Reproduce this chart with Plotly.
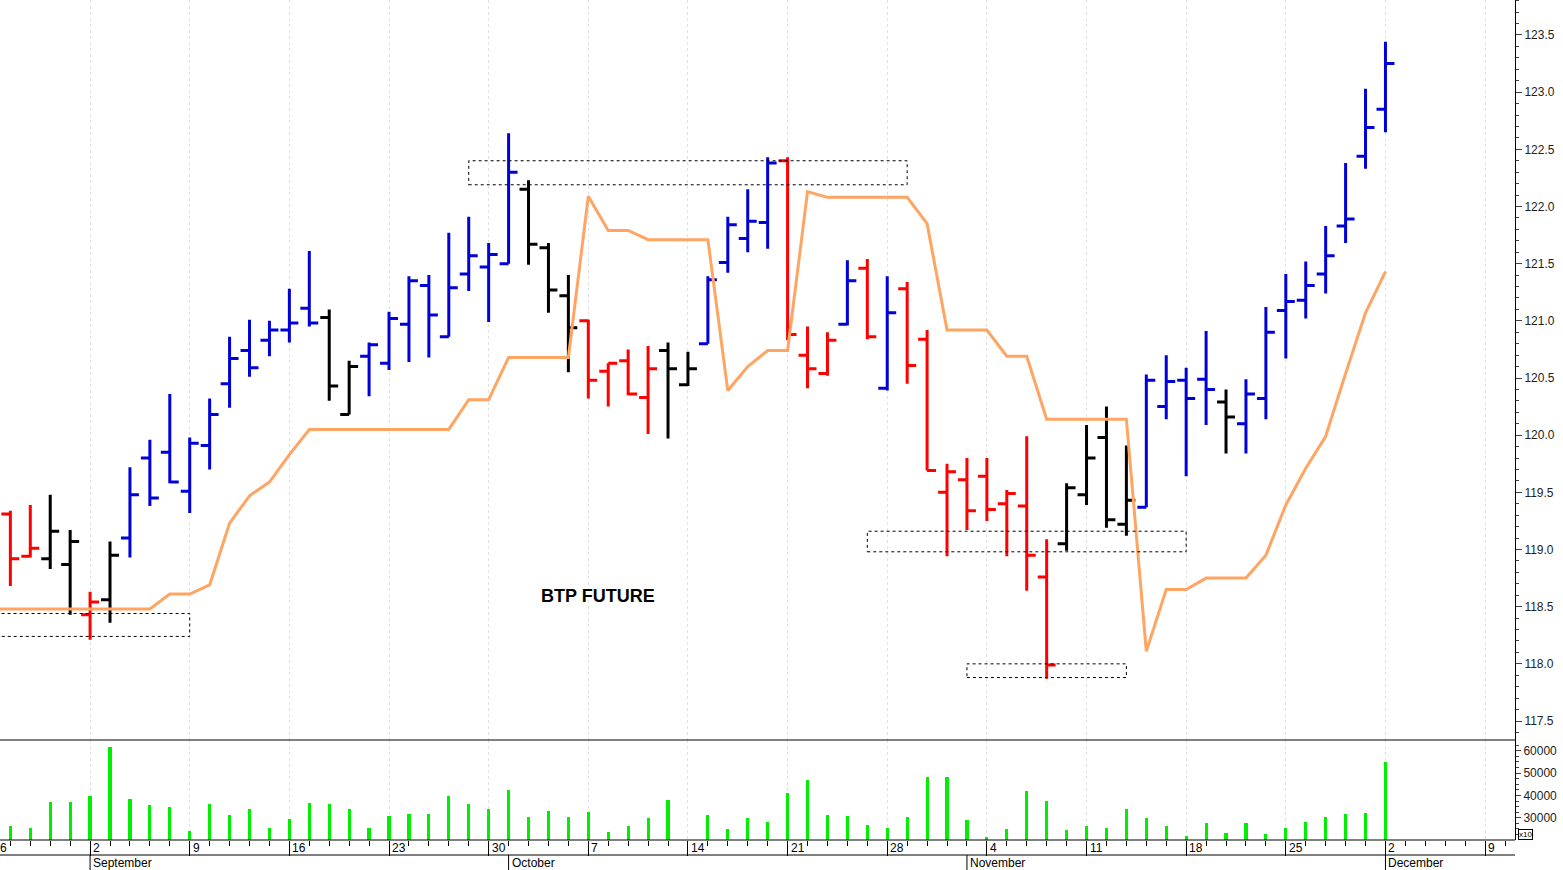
import pandas as pd
import plotly.graph_objects as go

dates = [d.strftime("%Y-%m-%d") for d in pd.bdate_range("2019-08-26", "2019-12-02")]
open_ = [119.30,119.31,118.94,118.92,118.87,118.43,118.56,119.10,119.80,119.85,119.51,119.91,120.45,120.74,120.83,120.92,121.11,121.03,120.18,120.69,120.63,120.97,121.31,120.86,121.41,121.47,121.50,122.15,121.64,121.22,121.00,120.56,120.65,120.33,120.74,120.44,120.80,121.51,121.72,121.86,122.40,120.70,120.54,120.97,121.46,120.41,121.28,120.84,119.50,119.61,119.64,119.40,119.38,118.76,119.05,119.48,119.98,119.22,119.37,120.25,120.48,120.49,120.29,120.10,120.32,121.09,121.18,121.41,121.83,122.44,122.85]
high = [119.6,119.34,119.39,119.48,119.17,118.63,119.07,119.72,119.96,120.36,119.98,120.32,120.86,121.01,121.00,121.28,121.61,121.10,120.65,120.81,121.08,121.39,121.40,121.77,121.91,121.68,122.64,122.23,121.68,121.40,121.01,120.63,120.75,120.78,120.81,120.73,121.39,121.91,122.15,122.43,122.43,120.95,120.90,121.53,121.54,121.39,121.34,120.92,119.75,119.80,119.80,119.52,119.99,119.09,119.58,120.09,120.25,119.91,120.53,120.70,120.59,120.91,120.40,120.49,121.12,121.41,121.52,121.83,122.38,123.03,123.44]
low = [119.1,118.68,118.93,118.83,118.43,118.21,118.36,118.93,119.38,119.58,119.32,119.70,120.24,120.51,120.69,120.81,120.95,120.30,120.18,120.34,120.57,120.64,120.68,120.86,121.26,120.99,121.50,121.49,121.07,120.55,120.32,120.25,120.35,120.01,119.97,120.43,120.80,121.42,121.60,121.63,120.83,120.41,120.52,120.96,120.84,120.39,120.45,119.69,118.94,119.17,119.25,118.94,118.64,117.87,118.99,119.39,119.19,119.12,119.37,120.14,119.64,120.09,119.84,119.84,120.14,120.67,121.02,121.24,121.68,122.33,122.65]
close = [119.41,118.92,119.01,119.16,119.07,118.54,118.95,119.48,119.45,119.59,119.93,120.18,120.67,120.59,120.92,120.98,120.98,120.43,120.60,120.79,121.02,121.35,121.05,121.29,121.57,121.58,122.30,121.67,121.27,120.94,120.48,120.63,120.36,120.58,120.58,120.58,121.36,121.84,121.87,122.38,120.88,120.58,120.83,121.35,120.86,121.07,120.61,119.69,119.68,119.34,119.35,119.49,118.95,117.99,119.54,119.80,119.26,119.43,120.48,120.47,120.32,120.40,120.16,120.36,120.90,121.17,121.31,121.57,121.89,122.69,123.25]
bar_color = list("krrkkrk") + ["b"]*10 + ["k"]*2 + ["b"]*8 + ["k"]*3 + ["r"]*4 + ["k"]*2 + ["b"]*4 + ["r"]*3 + ["b","r","b"] + ["r"]*8 + ["k"]*4 + ["b"]*4 + ["k"] + ["b"]*8
stop_line = [118.48]*9 + [118.61,118.61,118.69,119.23,119.47,119.59,119.83,120.05,120.05,120.05,120.05,120.05,120.05,120.05,120.05,120.31,120.31,
 120.68,120.68,120.68,120.68,122.09,121.79,121.79,121.71,121.71,121.71,121.71,120.39,120.60,120.74,120.74,122.13,122.08,122.08,122.08,122.08,122.08,121.85,120.92,
 120.92,120.92,120.69,120.69,120.14,120.14,120.14,120.14,120.14,118.11,118.65,118.65,118.75,118.75,118.75,118.95,119.39,119.71,119.99,120.54,121.07,121.43]
volume = [30000,26230,25480,37090,37240,39650,61670,38290,35880,34670,23970,36330,31060,33770,25630,29250,36790,36030,33770,25630,30600,31500,31500,39650,36330,33770,
 42370,30150,33170,30150,32410,23520,26230,29700,38140,20100,31060,24870,29700,27890,41010,46740,31060,30600,26980,25630,30150,48250,48250,
 28790,21400,24870,41760,37690,24420,26530,25630,33770,29700,26530,22010,27440,23060,27440,22760,25330,27890,30150,31510,31960,55030]
# dashed boxes: (start date, end date, low, high)
boxes = [("2019-08-23", "2019-09-09", 118.24, 118.44), ("2019-09-27", "2019-10-29", 122.19, 122.40),
         ("2019-10-25", "2019-11-18", 118.98, 119.16), ("2019-11-01", "2019-11-13", 117.88, 118.00)]
title_text = "BTP FUTURE"

axis_days = pd.bdate_range("2019-08-26", "2019-12-13")
idx = {d.strftime("%Y-%m-%d"): i for i, d in enumerate(axis_days)}
x = [idx[d] for d in dates]
def xi(d):
    return idx[d] if d in idx else (pd.Timestamp(d) - pd.Timestamp("2019-08-26")).days * 5 / 7

fig = go.Figure()
cmap = {"b": "#0000D8", "r": "#FF0000", "k": "#000000"}
for key, col in cmap.items():
    sel = [i for i, c in enumerate(bar_color) if c == key]
    fig.add_trace(go.Ohlc(x=[x[i] for i in sel], open=[open_[i] for i in sel], high=[high[i] for i in sel],
                          low=[low[i] for i in sel], close=[close[i] for i in sel], tickwidth=0.45,
                          increasing=dict(line=dict(color=col, width=3)), decreasing=dict(line=dict(color=col, width=3)),
                          xaxis="x2", yaxis="y2", showlegend=False))
fig.add_trace(go.Scatter(x=x, y=stop_line, mode="lines", line=dict(color="#FFA563", width=3), xaxis="x2", yaxis="y2", showlegend=False))
fig.add_trace(go.Bar(x=x, y=volume, marker=dict(color="#00EE00", line=dict(width=0)), width=0.16, showlegend=False))

mondays = [i for i, d in enumerate(axis_days) if d.weekday() == 0]
xr = [0.48, 76.5]
py0 = 1 - 740/870; vy1 = py0; vy0 = 1 - 840/870
common_x = dict(range=xr, tickvals=mondays, showgrid=True, gridcolor="#e2e2e2", griddash="dot", gridwidth=1,
                zeroline=False, showticklabels=False)
fig.update_layout(
    width=1563, height=870, margin=dict(l=0, r=48, t=0, b=0), plot_bgcolor="white", paper_bgcolor="white",
    font=dict(family="Arial", size=11, color="#000"),
    xaxis=dict(**common_x, domain=[0, 1], anchor="y", ticks="outside", ticklen=15, tickcolor="#000",
               minor=dict(dtick=1, tick0=0, ticks="outside", ticklen=5, tickcolor="#000", showgrid=False)),
    xaxis2=dict(**common_x, domain=[0, 1], anchor="y2", matches="x", ticks="", rangeslider=dict(visible=False)),
    yaxis=dict(domain=[vy0, vy1], range=[20050, 64800], side="right", tickvals=[30000, 40000, 50000, 60000],
               tickformat="d", ticks="outside", ticklen=5, showgrid=False, zeroline=False, showline=True, linecolor="#000",
               minor=dict(dtick=2500, ticks="outside", ticklen=3), tickfont=dict(size=12, color="#222")),
    yaxis2=dict(domain=[py0, 1], range=[117.334, 123.806], side="right", dtick=0.5, tick0=117.5, tickformat=".1f",
                ticks="outside", ticklen=6, showgrid=False, zeroline=False, showline=True, linecolor="#000",
                minor=dict(dtick=0.1, ticks="outside", ticklen=3), tickfont=dict(size=12, color="#222")),
    bargap=0,
)
shapes = []
for s, e, lo, hi in boxes:
    shapes.append(dict(type="rect", xref="x2", yref="y2", x0=xi(s), x1=xi(e), y0=lo, y1=hi,
                       line=dict(color="#000", width=1, dash="dot")))
shapes.append(dict(type="line", xref="paper", yref="paper", x0=0, x1=1, y0=py0, y1=py0, line=dict(color="#000", width=1)))
shapes.append(dict(type="line", xref="paper", yref="paper", x0=0, x1=1, y0=vy0, y1=vy0, line=dict(color="#000", width=1)))
y855 = 1 - 855/870
shapes.append(dict(type="line", xref="paper", yref="paper", x0=0, x1=1, y0=y855, y1=y855, line=dict(color="#000", width=1)))
ann = []
for i in mondays:
    ann.append(dict(x=i, xref="x", y=1 - 848/870, yref="paper", text=str(axis_days[i].day), showarrow=False,
                    xanchor="left", xshift=1, yanchor="middle", font=dict(size=12)))
ann.append(dict(x=0, xref="paper", y=1 - 848/870, yref="paper", text="6", showarrow=False,
                xanchor="left", xshift=-2, yanchor="middle", font=dict(size=12)))
prev = None
for i, d in enumerate(axis_days):
    if prev is not None and d.month != prev:
        shapes.append(dict(type="line", xref="x", yref="paper", x0=i, x1=i, y0=0, y1=y855, line=dict(color="#000", width=1)))
        ann.append(dict(x=i, xref="x", y=1 - 863/870, yref="paper", text=d.strftime("%B"), showarrow=False,
                        xanchor="left", xshift=1, yanchor="middle", font=dict(size=12)))
    prev = d.month
ann.append(dict(x=xi("2019-10-07") + 0.5, xref="x2", y=118.59, yref="y2", text="<b>" + title_text + "</b>",
                showarrow=False, font=dict(size=18, color="#000")))
ann.append(dict(x=1.002, xref="paper", y=1 - 834/870, yref="paper", text="x10", showarrow=False, xanchor="left",
                yanchor="middle", font=dict(size=8), bordercolor="#000", borderwidth=1, borderpad=0))
fig.update_layout(shapes=shapes, annotations=ann)
fig.write_html("out.html", config={"displayModeBar": False},
               post_script="document.body.style.margin='0';document.body.style.overflow='hidden';")
